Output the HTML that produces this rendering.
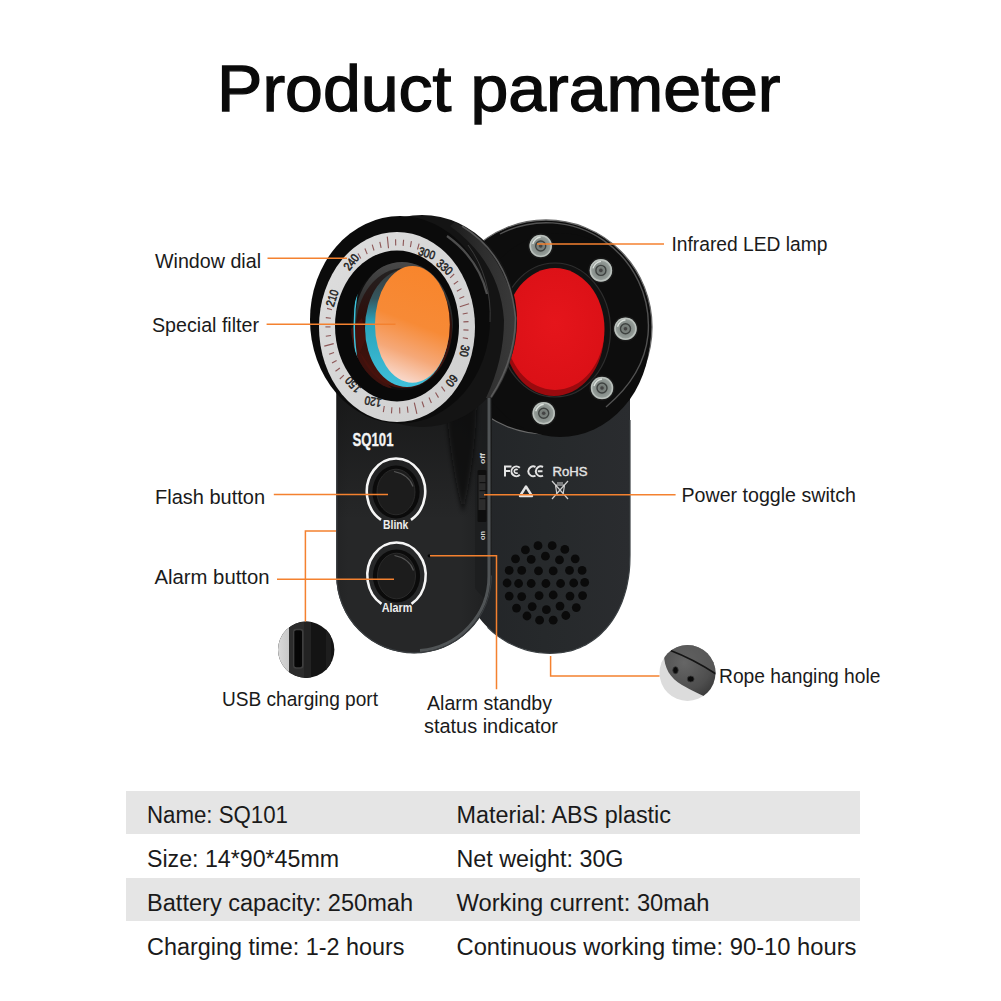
<!DOCTYPE html>
<html><head><meta charset="utf-8"><style>
html,body{margin:0;padding:0;background:#fff;width:1001px;height:1001px;overflow:hidden}
svg{display:block}
text{font-family:"Liberation Sans",sans-serif}
</style></head><body>
<svg width="1001" height="1001" viewBox="0 0 1001 1001">
<defs>
<linearGradient id="gFilter" x1="0.6" y1="0" x2="0.35" y2="1">
<stop offset="0" stop-color="#f8852c"/><stop offset="0.48" stop-color="#f78a36"/><stop offset="0.75" stop-color="#f5a878"/><stop offset="1" stop-color="#f9ddd3"/>
</linearGradient>
<linearGradient id="gRing" x1="0" y1="0" x2="1" y2="1">
<stop offset="0" stop-color="#dedede"/><stop offset="0.5" stop-color="#d6d6d6"/><stop offset="1" stop-color="#cfcfcf"/>
</linearGradient>
<linearGradient id="gCyan" x1="0" y1="0" x2="0" y2="1">
<stop offset="0" stop-color="#3a3a3a"/><stop offset="0.25" stop-color="#34565e"/><stop offset="0.45" stop-color="#2aa3bb"/><stop offset="1" stop-color="#3fc0da"/>
</linearGradient>
<linearGradient id="gBarrelGray" x1="0" y1="0" x2="0" y2="1">
<stop offset="0" stop-color="#4a4a4a"/><stop offset="0.4" stop-color="#2a2a2a"/><stop offset="1" stop-color="#141414"/>
</linearGradient>
<linearGradient id="gRedBand" x1="0" y1="0" x2="0" y2="1">
<stop offset="0" stop-color="#222"/><stop offset="0.4" stop-color="#2e0f0b"/><stop offset="1" stop-color="#48130d"/>
</linearGradient>
<linearGradient id="gBodyF" x1="0" y1="0" x2="1" y2="0">
<stop offset="0" stop-color="#232425"/><stop offset="0.08" stop-color="#262728"/><stop offset="0.8" stop-color="#262728"/><stop offset="1" stop-color="#1e1f20"/>
</linearGradient>
<linearGradient id="gBodyB" x1="0" y1="0" x2="1" y2="0">
<stop offset="0" stop-color="#222427"/><stop offset="0.5" stop-color="#26292b"/><stop offset="1" stop-color="#2a2c2f"/>
</linearGradient>
<linearGradient id="gHeadSide" x1="0" y1="0" x2="1" y2="0">
<stop offset="0" stop-color="#1c1c1c"/><stop offset="0.5" stop-color="#2e2e2e"/><stop offset="1" stop-color="#3a3a3a"/>
</linearGradient>
<radialGradient id="gLed" cx="0.5" cy="0.5" r="0.55">
<stop offset="0" stop-color="#6a706c"/><stop offset="0.6" stop-color="#8c9490"/><stop offset="1" stop-color="#a4aca8"/>
</radialGradient>
<radialGradient id="gRed" cx="0.5" cy="0.45" r="0.6">
<stop offset="0" stop-color="#e5151b"/><stop offset="1" stop-color="#da1016"/>
</radialGradient>
<linearGradient id="gRope" x1="0" y1="0" x2="0" y2="1">
<stop offset="0" stop-color="#3c3c3c"/><stop offset="0.5" stop-color="#5a5a5a"/><stop offset="1" stop-color="#4e4e4e"/>
</linearGradient>
<linearGradient id="gUsbL" x1="0" y1="0" x2="1" y2="0">
<stop offset="0" stop-color="#e4e4e4"/><stop offset="1" stop-color="#c8c8c8"/>
</linearGradient>
<radialGradient id="gRopeR" cx="0.45" cy="0.35" r="0.7"><stop offset="0" stop-color="#666"/><stop offset="0.6" stop-color="#4e4e4e"/><stop offset="1" stop-color="#2e2e2e"/></radialGradient>
<clipPath id="cpRope"><circle cx="687.5" cy="673" r="28"/></clipPath>
<clipPath id="cpUsb"><circle cx="306.2" cy="649.8" r="28.2"/></clipPath>
<linearGradient id="gTopDark" x1="0" y1="0" x2="0" y2="1"><stop offset="0" stop-color="#111" stop-opacity="0.7"/><stop offset="1" stop-color="#111" stop-opacity="0"/></linearGradient>
<filter id="fBlur2" x="-50%" y="-20%" width="200%" height="140%"><feGaussianBlur stdDeviation="2.2"/></filter>
<clipPath id="cpFront"><path d="M336.2 380 L492 380 L492 575.5 A77.9 77.9 0 0 1 336.2 575.5 Z"/></clipPath>
<clipPath id="cpBarrel"><ellipse cx="402" cy="326" rx="51" ry="64"/></clipPath>
</defs>
<rect width="1001" height="1001" fill="#fff"/>

<path d="M476 380 L630 380 L630.0 555.0 L629.9 559.8 L629.8 564.2 L629.5 568.4 L629.1 572.5 L628.6 576.5 L627.9 580.4 L627.2 584.2 L626.4 588.0 L625.4 591.6 L624.3 595.2 L623.1 598.7 L621.9 602.2 L620.5 605.5 L619.0 608.7 L617.4 611.9 L615.7 615.0 L613.9 617.9 L612.0 620.8 L610.0 623.6 L608.0 626.2 L605.8 628.8 L603.5 631.2 L601.2 633.5 L598.8 635.7 L596.3 637.8 L593.7 639.8 L591.1 641.6 L588.4 643.3 L585.6 644.9 L582.7 646.3 L579.8 647.6 L576.8 648.8 L573.8 649.9 L570.7 650.8 L567.5 651.5 L564.2 652.2 L560.9 652.7 L557.5 653.0 L553.9 653.2 L550.0 653.3 L546.4 653.2 L542.8 653.0 L539.2 652.6 L535.6 652.1 L532.1 651.4 L528.5 650.6 L525.0 649.6 L521.6 648.5 L518.2 647.2 L514.8 645.8 L511.5 644.3 L508.2 642.6 L505.0 640.8 L501.9 638.8 L498.9 636.7 L495.9 634.5 L493.0 632.2 L490.3 629.7 L487.6 627.2 L484.9 624.5 L482.4 621.7 L480.0 618.8 L477.8 615.9 L475.6 612.8 L473.5 609.6 L471.6 606.4 L469.7 603.0 L468.0 599.6 L466.5 596.2 L465.0 592.6 L463.7 589.0 L462.5 585.4 L461.5 581.7 L460.5 577.9 L459.8 574.2 L459.1 570.4 L458.6 566.6 L458.3 562.7 L458.1 558.9 L458.0 555.0 L458 380 Z" fill="url(#gBodyB)"/>
<path d="M630 420 L630.0 555.0 L629.9 559.8 L629.8 564.2 L629.5 568.4 L629.1 572.5 L628.6 576.5 L627.9 580.4 L627.2 584.2 L626.4 588.0 L625.4 591.6 L624.3 595.2 L623.1 598.7 L621.9 602.2 L620.5 605.5 L619.0 608.7 L617.4 611.9 L615.7 615.0 L613.9 617.9 L612.0 620.8 L610.0 623.6 L608.0 626.2 L605.8 628.8 L603.5 631.2 L601.2 633.5 L598.8 635.7 L596.3 637.8 L593.7 639.8 L591.1 641.6 L588.4 643.3 L585.6 644.9 L582.7 646.3 L579.8 647.6 L576.8 648.8 L573.8 649.9 L570.7 650.8 L567.5 651.5 L564.2 652.2 L560.9 652.7 L557.5 653.0 L553.9 653.2 L550.0 653.3 L546.4 653.2 L542.8 653.0 L539.2 652.6 L535.6 652.1 L532.1 651.4 L528.5 650.6 L525.0 649.6 L521.6 648.5 L518.2 647.2 L514.8 645.8 L511.5 644.3 L508.2 642.6 L505.0 640.8 L501.9 638.8 L498.9 636.7 L495.9 634.5 L493.0 632.2 L490.3 629.7 L487.6 627.2" fill="none" stroke="#3a3f42" stroke-width="1.2"/>
<ellipse cx="546" cy="327" rx="106" ry="107" fill="#0d0d0d" stroke="#6a6a6a" stroke-width="1.3"/>
<ellipse cx="560" cy="335" rx="90" ry="102" fill="#0d0d0d"/>
<path d="M500 234 A102 103 0 0 1 648 335 Q644 375 606 407" fill="none" stroke="#5a5a5a" stroke-width="1.4" opacity="0.9"/>
<ellipse cx="555" cy="330" rx="55.5" ry="67" fill="#121212" stroke="#2e2e2e" stroke-width="1.2"/>
<ellipse cx="554" cy="334" rx="50" ry="62" fill="#9a0a0e"/>
<ellipse cx="555" cy="329" rx="49.5" ry="61" fill="url(#gRed)"/>
<circle cx="540.7" cy="246" r="12.8" fill="#181818"/>
<circle cx="540.7" cy="246" r="11.3" fill="url(#gLed)"/>
<circle cx="540.7" cy="246" r="10.4" fill="none" stroke="#c4cac6" stroke-width="1.3" opacity="0.8"/>
<circle cx="540.7" cy="246" r="5" fill="none" stroke="#3e4240" stroke-width="1.4"/>
<circle cx="540.7" cy="246" r="1.8" fill="#444"/>
<path d="M532.7 244 Q534.7 238 540.7 237" fill="none" stroke="#eef2ee" stroke-width="1.4" opacity="0.8"/>
<circle cx="600.9" cy="270.4" r="12.8" fill="#181818"/>
<circle cx="600.9" cy="270.4" r="11.3" fill="url(#gLed)"/>
<circle cx="600.9" cy="270.4" r="10.4" fill="none" stroke="#c4cac6" stroke-width="1.3" opacity="0.8"/>
<circle cx="600.9" cy="270.4" r="5" fill="none" stroke="#3e4240" stroke-width="1.4"/>
<circle cx="600.9" cy="270.4" r="1.8" fill="#444"/>
<path d="M592.9 268.4 Q594.9 262.4 600.9 261.4" fill="none" stroke="#eef2ee" stroke-width="1.4" opacity="0.8"/>
<circle cx="625.5" cy="328.7" r="12.8" fill="#181818"/>
<circle cx="625.5" cy="328.7" r="11.3" fill="url(#gLed)"/>
<circle cx="625.5" cy="328.7" r="10.4" fill="none" stroke="#c4cac6" stroke-width="1.3" opacity="0.8"/>
<circle cx="625.5" cy="328.7" r="5" fill="none" stroke="#3e4240" stroke-width="1.4"/>
<circle cx="625.5" cy="328.7" r="1.8" fill="#444"/>
<path d="M617.5 326.7 Q619.5 320.7 625.5 319.7" fill="none" stroke="#eef2ee" stroke-width="1.4" opacity="0.8"/>
<circle cx="602" cy="388" r="12.8" fill="#181818"/>
<circle cx="602" cy="388" r="11.3" fill="url(#gLed)"/>
<circle cx="602" cy="388" r="10.4" fill="none" stroke="#c4cac6" stroke-width="1.3" opacity="0.8"/>
<circle cx="602" cy="388" r="5" fill="none" stroke="#3e4240" stroke-width="1.4"/>
<circle cx="602" cy="388" r="1.8" fill="#444"/>
<path d="M594 386 Q596 380 602 379" fill="none" stroke="#eef2ee" stroke-width="1.4" opacity="0.8"/>
<circle cx="543.7" cy="413.3" r="12.8" fill="#181818"/>
<circle cx="543.7" cy="413.3" r="11.3" fill="url(#gLed)"/>
<circle cx="543.7" cy="413.3" r="10.4" fill="none" stroke="#c4cac6" stroke-width="1.3" opacity="0.8"/>
<circle cx="543.7" cy="413.3" r="5" fill="none" stroke="#3e4240" stroke-width="1.4"/>
<circle cx="543.7" cy="413.3" r="1.8" fill="#444"/>
<path d="M535.7 411.3 Q537.7 405.3 543.7 404.3" fill="none" stroke="#eef2ee" stroke-width="1.4" opacity="0.8"/>
<g fill="none" stroke="#e4e4e4" stroke-width="2"><path d="M505 476.5 V466.5 H511.5 M505 471 H510"/><path d="M519.8 467.8 A4.9 4.9 0 1 0 519.8 474.8"/><path d="M517.6 470 A1.9 1.9 0 1 0 517.6 472.6" stroke-width="1.6"/><path d="M535.5 467 A4.9 4.9 0 1 0 535.5 475.6"/><path d="M543 467 A4.9 4.9 0 1 0 543 475.6 M537.8 471.3 H542.5"/><path d="M520 496 L526 486.5 L532 496 Z" stroke-width="2.4" stroke-linejoin="round"/></g>
<text x="552.5" y="476.2" font-size="13" fill="#e4e4e4" stroke="#e4e4e4" stroke-width="0.4" textLength="35" lengthAdjust="spacingAndGlyphs">RoHS</text>
<path d="M552 481 L568 499 M568 481 L552 499 M555.5 485 h9 l-1.5 10 h-6 z M557 483 h6" fill="none" stroke="#cfcfcf" stroke-width="1.2"/>
<circle cx="538.0" cy="545.7" r="4.4" fill="#0a0a0a"/>
<circle cx="552.2" cy="545.7" r="4.4" fill="#0a0a0a"/>
<circle cx="525.4" cy="549.9" r="4.4" fill="#0a0a0a"/>
<circle cx="564.8" cy="549.4" r="4.4" fill="#0a0a0a"/>
<circle cx="515.5" cy="558.8" r="4.4" fill="#0a0a0a"/>
<circle cx="531.2" cy="559.4" r="4.4" fill="#0a0a0a"/>
<circle cx="545.4" cy="556.2" r="4.4" fill="#0a0a0a"/>
<circle cx="559.5" cy="559.9" r="4.4" fill="#0a0a0a"/>
<circle cx="575.2" cy="558.8" r="4.4" fill="#0a0a0a"/>
<circle cx="509.2" cy="570.4" r="4.4" fill="#0a0a0a"/>
<circle cx="521.7" cy="570.4" r="4.4" fill="#0a0a0a"/>
<circle cx="538.5" cy="570.9" r="4.4" fill="#0a0a0a"/>
<circle cx="553.2" cy="570.9" r="4.4" fill="#0a0a0a"/>
<circle cx="569.5" cy="570.4" r="4.4" fill="#0a0a0a"/>
<circle cx="582.1" cy="570.4" r="4.4" fill="#0a0a0a"/>
<circle cx="507.1" cy="583.0" r="4.4" fill="#0a0a0a"/>
<circle cx="518.6" cy="583.5" r="4.4" fill="#0a0a0a"/>
<circle cx="531.2" cy="583.5" r="4.4" fill="#0a0a0a"/>
<circle cx="545.9" cy="583.5" r="4.4" fill="#0a0a0a"/>
<circle cx="560.6" cy="583.5" r="4.4" fill="#0a0a0a"/>
<circle cx="573.7" cy="583.0" r="4.4" fill="#0a0a0a"/>
<circle cx="584.7" cy="582.4" r="4.4" fill="#0a0a0a"/>
<circle cx="509.2" cy="596.1" r="4.4" fill="#0a0a0a"/>
<circle cx="521.7" cy="596.6" r="4.4" fill="#0a0a0a"/>
<circle cx="539.1" cy="595.6" r="4.4" fill="#0a0a0a"/>
<circle cx="553.2" cy="595.0" r="4.4" fill="#0a0a0a"/>
<circle cx="570.0" cy="596.1" r="4.4" fill="#0a0a0a"/>
<circle cx="582.6" cy="595.6" r="4.4" fill="#0a0a0a"/>
<circle cx="516.5" cy="608.1" r="4.4" fill="#0a0a0a"/>
<circle cx="532.2" cy="606.6" r="4.4" fill="#0a0a0a"/>
<circle cx="546.4" cy="609.7" r="4.4" fill="#0a0a0a"/>
<circle cx="560.0" cy="606.1" r="4.4" fill="#0a0a0a"/>
<circle cx="576.3" cy="607.6" r="4.4" fill="#0a0a0a"/>
<circle cx="527.0" cy="616.0" r="4.4" fill="#0a0a0a"/>
<circle cx="539.6" cy="620.2" r="4.4" fill="#0a0a0a"/>
<circle cx="553.2" cy="620.2" r="4.4" fill="#0a0a0a"/>
<circle cx="565.8" cy="615.5" r="4.4" fill="#0a0a0a"/>
<path d="M336.2 380 L492 380 L492 575.5 A77.9 77.9 0 0 1 336.2 575.5 Z" fill="url(#gBodyF)"/>
<rect x="337" y="380" width="155" height="140" fill="url(#gTopDark)"/>
<path d="M336.8 420 L336.8 575.5 A77.3 77.3 0 0 0 491.4 575.5" fill="none" stroke="#3a3e41" stroke-width="1.2"/>
<g clip-path="url(#cpFront)">
<path d="M475 390 L487 390 L487 600 Q481 596 475 588 Z" fill="#1c1d1e" opacity="0.85"/>
<path d="M489 390 L489 575.5 A75 75 0 0 1 420 650.5" stroke="#505456" stroke-width="3" fill="none"/>
</g>
<path d="M446 405 L477 405 Q475 462 463 512 Q451 468 446 405 Z" fill="#0a0a0a" opacity="0.8" filter="url(#fBlur2)"/>
<rect x="477.5" y="470" width="9" height="52" rx="1.5" fill="#0e0e0e"/>
<rect x="478.5" y="475" width="7" height="35" fill="#2c2c2c"/>
<rect x="479.5" y="482" width="6.5" height="1.2" fill="#111"/><rect x="479.5" y="490" width="6.5" height="1.2" fill="#111"/><rect x="479.5" y="498" width="6.5" height="1.2" fill="#111"/>
<text transform="translate(484.5,464) rotate(-90)" font-size="7" font-weight="bold" fill="#d8d8d8" textLength="11" lengthAdjust="spacingAndGlyphs">off</text>
<text transform="translate(484.5,540) rotate(-90)" font-size="7" font-weight="bold" fill="#d8d8d8" textLength="9" lengthAdjust="spacingAndGlyphs">on</text>
<ellipse cx="422" cy="321" rx="95" ry="106" fill="#141414"/>
<path d="M455 222 Q505 250 516.5 318 Q517 362 492 398 L486 398 Q504 360 504 320 Q500 262 450 226 Z" fill="url(#gHeadSide)"/>
<path d="M462 226 Q510 256 515.5 318 Q515 360 491 397" fill="none" stroke="#5e5e5e" stroke-width="1.6" opacity="0.9"/>
<ellipse cx="400" cy="319.8" rx="90" ry="103.8" fill="#0b0b0b"/>
<path d="M468 245 A90 106 0 0 1 490 322" fill="none" stroke="#444" stroke-width="1" opacity="0.8"/>
<path d="M447 236 Q478 258 487 294" fill="none" stroke="#6a6a6a" stroke-width="2.2" opacity="0.7"/>
<ellipse cx="397" cy="327" rx="78" ry="95" fill="url(#gRing)"/>
<line x1="450.1" y1="277.8" x2="454.2" y2="274.0" stroke="#8c5656" stroke-width="1.1"/>
<line x1="453.8" y1="284.3" x2="458.1" y2="281.1" stroke="#8c5656" stroke-width="1.1"/>
<line x1="456.9" y1="291.3" x2="461.5" y2="288.6" stroke="#8c5656" stroke-width="1.1"/>
<line x1="459.4" y1="298.6" x2="464.2" y2="296.5" stroke="#8c5656" stroke-width="1.1"/>
<line x1="459.8" y1="306.7" x2="469.1" y2="303.8" stroke="#8c5656" stroke-width="1.1"/>
<line x1="462.7" y1="314.0" x2="467.7" y2="313.0" stroke="#8c5656" stroke-width="1.1"/>
<line x1="463.4" y1="321.9" x2="468.5" y2="321.6" stroke="#8c5656" stroke-width="1.1"/>
<line x1="463.4" y1="329.9" x2="468.5" y2="330.1" stroke="#8c5656" stroke-width="1.1"/>
<line x1="462.8" y1="337.8" x2="467.9" y2="338.6" stroke="#8c5656" stroke-width="1.1"/>
<line x1="441.5" y1="386.7" x2="444.9" y2="391.3" stroke="#8c5656" stroke-width="1.1"/>
<line x1="435.5" y1="392.5" x2="438.5" y2="397.6" stroke="#8c5656" stroke-width="1.1"/>
<line x1="429.0" y1="397.5" x2="431.4" y2="403.0" stroke="#8c5656" stroke-width="1.1"/>
<line x1="422.0" y1="401.5" x2="424.0" y2="407.3" stroke="#8c5656" stroke-width="1.1"/>
<line x1="414.3" y1="402.6" x2="416.9" y2="413.9" stroke="#8c5656" stroke-width="1.1"/>
<line x1="407.3" y1="406.5" x2="408.0" y2="412.7" stroke="#8c5656" stroke-width="1.1"/>
<line x1="399.6" y1="407.4" x2="399.8" y2="413.6" stroke="#8c5656" stroke-width="1.1"/>
<line x1="391.9" y1="407.2" x2="391.5" y2="413.4" stroke="#8c5656" stroke-width="1.1"/>
<line x1="384.3" y1="406.0" x2="383.3" y2="412.1" stroke="#8c5656" stroke-width="1.1"/>
<line x1="343.9" y1="375.2" x2="339.8" y2="379.0" stroke="#8c5656" stroke-width="1.1"/>
<line x1="339.9" y1="368.0" x2="335.5" y2="371.2" stroke="#8c5656" stroke-width="1.1"/>
<line x1="336.6" y1="360.4" x2="332.0" y2="363.0" stroke="#8c5656" stroke-width="1.1"/>
<line x1="334.0" y1="352.4" x2="329.1" y2="354.3" stroke="#8c5656" stroke-width="1.1"/>
<line x1="333.7" y1="343.6" x2="324.3" y2="346.1" stroke="#8c5656" stroke-width="1.1"/>
<line x1="330.9" y1="335.5" x2="325.8" y2="336.2" stroke="#8c5656" stroke-width="1.1"/>
<line x1="330.5" y1="326.9" x2="325.4" y2="326.9" stroke="#8c5656" stroke-width="1.1"/>
<line x1="330.9" y1="318.2" x2="325.8" y2="317.6" stroke="#8c5656" stroke-width="1.1"/>
<line x1="332.0" y1="309.7" x2="327.0" y2="308.4" stroke="#8c5656" stroke-width="1.1"/>
<line x1="360.8" y1="258.6" x2="358.0" y2="253.4" stroke="#8c5656" stroke-width="1.1"/>
<line x1="367.2" y1="254.1" x2="364.9" y2="248.5" stroke="#8c5656" stroke-width="1.1"/>
<line x1="374.0" y1="250.5" x2="372.2" y2="244.7" stroke="#8c5656" stroke-width="1.1"/>
<line x1="381.1" y1="247.9" x2="379.8" y2="241.8" stroke="#8c5656" stroke-width="1.1"/>
<line x1="388.5" y1="248.2" x2="387.3" y2="236.6" stroke="#8c5656" stroke-width="1.1"/>
<line x1="395.7" y1="245.6" x2="395.6" y2="239.3" stroke="#8c5656" stroke-width="1.1"/>
<line x1="403.1" y1="245.9" x2="403.6" y2="239.7" stroke="#8c5656" stroke-width="1.1"/>
<line x1="410.4" y1="247.2" x2="411.4" y2="241.1" stroke="#8c5656" stroke-width="1.1"/>
<line x1="417.5" y1="249.5" x2="419.1" y2="243.6" stroke="#8c5656" stroke-width="1.1"/>
<text transform="translate(351,262) rotate(-52)" x="-8.5" y="4.3" font-size="12" fill="#1e1e1e" stroke="#1e1e1e" stroke-width="0.5" textLength="17" lengthAdjust="spacingAndGlyphs">240</text>
<text transform="translate(426.9,253) rotate(18)" x="-8.5" y="4.3" font-size="12" fill="#1e1e1e" stroke="#1e1e1e" stroke-width="0.5" textLength="17" lengthAdjust="spacingAndGlyphs">300</text>
<text transform="translate(444.8,267) rotate(42)" x="-8.5" y="4.3" font-size="12" fill="#1e1e1e" stroke="#1e1e1e" stroke-width="0.5" textLength="17" lengthAdjust="spacingAndGlyphs">330</text>
<text transform="translate(332,298) rotate(-72)" x="-8.5" y="4.3" font-size="12" fill="#1e1e1e" stroke="#1e1e1e" stroke-width="0.5" textLength="17" lengthAdjust="spacingAndGlyphs">210</text>
<text transform="translate(464.8,351) rotate(100)" x="-5.75" y="4.3" font-size="12" fill="#1e1e1e" stroke="#1e1e1e" stroke-width="0.5" textLength="11.5" lengthAdjust="spacingAndGlyphs">30</text>
<text transform="translate(451.8,380.8) rotate(128)" x="-5.75" y="4.3" font-size="12" fill="#1e1e1e" stroke="#1e1e1e" stroke-width="0.5" textLength="11.5" lengthAdjust="spacingAndGlyphs">60</text>
<text transform="translate(373,401.8) rotate(190)" x="-8.5" y="4.3" font-size="12" fill="#1e1e1e" stroke="#1e1e1e" stroke-width="0.5" textLength="17" lengthAdjust="spacingAndGlyphs">120</text>
<text transform="translate(353,384.8) rotate(228)" x="-8.5" y="4.3" font-size="12" fill="#1e1e1e" stroke="#1e1e1e" stroke-width="0.5" textLength="17" lengthAdjust="spacingAndGlyphs">150</text>
<ellipse cx="397" cy="326" rx="62" ry="75.5" fill="#090909"/>
<g clip-path="url(#cpBarrel)">
<rect x="340" y="255" width="120" height="140" fill="#0f0f0f"/>
<ellipse cx="404" cy="322" rx="49" ry="62" fill="url(#gBarrelGray)"/>
<ellipse cx="404" cy="328" rx="48" ry="60" fill="url(#gRedBand)"/>
<path d="M350 330 L362 318 L366 338 L360 352 L374 372 L392 388 L370 392 L352 360 Z" fill="#4a120c" opacity="0.8"/>
<ellipse cx="407" cy="328" rx="42" ry="59" fill="url(#gCyan)"/>
<path d="M357 292 Q351 330 358 366" fill="none" stroke="#3cc3dc" stroke-width="1.5"/>
<path d="M372 268 Q392 256 425 262" fill="none" stroke="#a0a0a0" stroke-width="1.6" opacity="0.6"/>
</g>
<ellipse cx="412.4" cy="324.4" rx="37.4" ry="58.4" fill="url(#gFilter)"/>
<text x="352.5" y="445.5" font-size="18" font-weight="bold" fill="#f4f4f4" stroke="#f4f4f4" stroke-width="0.3" textLength="41" lengthAdjust="spacingAndGlyphs">SQ101</text>
<ellipse cx="396" cy="492.0" rx="23.6" ry="26.4" fill="#0b0b0b"/>
<ellipse cx="396" cy="492.0" rx="19" ry="22.8" fill="#1c1c1c" stroke="#303030" stroke-width="0.8"/>
<path d="M394 471.5 Q409 474.5 413 486.5" fill="none" stroke="#555" stroke-width="1.2"/>
<path d="M381.0 519.8 A29.2 33 0 1 1 411.0 519.8" fill="none" stroke="#f6f6f6" stroke-width="2.6"/>
<text x="383" y="529" font-size="12.5" font-weight="bold" fill="#eeeeee" textLength="25.4" lengthAdjust="spacingAndGlyphs">Blink</text>
<ellipse cx="396.5" cy="576.0" rx="23.6" ry="26.4" fill="#0b0b0b"/>
<ellipse cx="396.5" cy="576.0" rx="19" ry="22.8" fill="#1c1c1c" stroke="#303030" stroke-width="0.8"/>
<path d="M394.5 555.5 Q409.5 558.5 413.5 570.5" fill="none" stroke="#555" stroke-width="1.2"/>
<path d="M381.5 603.8 A29.2 33 0 1 1 411.5 603.8" fill="none" stroke="#f6f6f6" stroke-width="2.6"/>
<text x="381.7" y="612.2" font-size="12.5" font-weight="bold" fill="#eeeeee" textLength="30.6" lengthAdjust="spacingAndGlyphs">Alarm</text>
<circle cx="429.2" cy="555.8" r="1.6" fill="#050505"/>
<g clip-path="url(#cpUsb)"><rect x="270" y="615" width="80" height="70" fill="#141414"/><rect x="270" y="615" width="19" height="70" fill="url(#gUsbL)"/><rect x="289" y="615" width="15" height="70" fill="#2c2c2c"/><rect x="304" y="615" width="7" height="70" fill="#232323"/><rect x="326" y="615" width="5" height="70" fill="#1e1e1e"/><rect x="293.8" y="629.5" width="9" height="38.5" rx="2.5" fill="#070707" stroke="#3e3e3e" stroke-width="1.6"/><rect x="294.6" y="631" width="5" height="35.5" fill="#060606"/></g>
<g clip-path="url(#cpRope)"><rect x="655" y="640" width="65" height="65" fill="#dcdcdc"/><path d="M664 654 C664 668 670 678 682 685 C692 691 700 694 712 700 L720 705 L720 640 L655 640 L655 650 Z" fill="url(#gRopeR)"/><path d="M668 648 Q692 657 717 674 L720 640 Z" fill="#5e5e5e" opacity="0.6"/><path d="M670.5 650.5 Q693 659 716 674" fill="none" stroke="#141414" stroke-width="1.8"/><ellipse cx="675.5" cy="670.2" rx="2.7" ry="3.5" fill="#0a0a0a" stroke="#3a3a3a" stroke-width="0.8"/><ellipse cx="690.7" cy="679" rx="3.4" ry="3" fill="#0a0a0a" stroke="#3a3a3a" stroke-width="0.8"/></g>
<path d="M267.5 258.3 H347" fill="none" stroke="#f4812f" stroke-width="1.5"/>
<path d="M266.6 324.2 H395.5" fill="none" stroke="#f4812f" stroke-width="1.5"/>
<path d="M537 244 H664" fill="none" stroke="#f4812f" stroke-width="1.5"/>
<path d="M273.8 494.5 H388" fill="none" stroke="#f4812f" stroke-width="1.5"/>
<path d="M277 579.2 H394" fill="none" stroke="#f4812f" stroke-width="1.5"/>
<path d="M305.4 621.6 V531 H336" fill="none" stroke="#f4812f" stroke-width="1.5"/>
<path d="M430 555.8 H496.5 V689.3" fill="none" stroke="#f4812f" stroke-width="1.5"/>
<path d="M484 494.8 H675.6" fill="none" stroke="#f4812f" stroke-width="1.5"/>
<path d="M550.6 656 V676 H659.5" fill="none" stroke="#f4812f" stroke-width="1.5"/>
<text x="217" y="111" font-size="65.5" fill="#0a0a0a" font-weight="normal" textLength="563.5" lengthAdjust="spacingAndGlyphs" stroke="#0a0a0a" stroke-width="1.3">Product parameter</text>
<text x="155" y="267.7" font-size="20.1" fill="#1a1a1a" font-weight="normal" textLength="106" lengthAdjust="spacingAndGlyphs" >Window dial</text>
<text x="152" y="332.2" font-size="20.1" fill="#1a1a1a" font-weight="normal" textLength="107" lengthAdjust="spacingAndGlyphs" >Special filter</text>
<text x="155" y="503.5" font-size="20.1" fill="#1a1a1a" font-weight="normal" textLength="110" lengthAdjust="spacingAndGlyphs" >Flash button</text>
<text x="154.5" y="584.4" font-size="20.1" fill="#1a1a1a" font-weight="normal" textLength="115" lengthAdjust="spacingAndGlyphs" >Alarm button</text>
<text x="222" y="706" font-size="20.1" fill="#1a1a1a" font-weight="normal" textLength="156" lengthAdjust="spacingAndGlyphs" >USB charging port</text>
<text x="427" y="710" font-size="20.1" fill="#1a1a1a" font-weight="normal" textLength="125" lengthAdjust="spacingAndGlyphs" >Alarm standby</text>
<text x="424" y="732.6" font-size="20.1" fill="#1a1a1a" font-weight="normal" textLength="134" lengthAdjust="spacingAndGlyphs" >status indicator</text>
<text x="671.5" y="251.2" font-size="20.1" fill="#1a1a1a" font-weight="normal" textLength="156" lengthAdjust="spacingAndGlyphs" >Infrared LED lamp</text>
<text x="681.5" y="502.2" font-size="20.1" fill="#1a1a1a" font-weight="normal" textLength="174.5" lengthAdjust="spacingAndGlyphs" >Power toggle switch</text>
<text x="719" y="683" font-size="20.1" fill="#1a1a1a" font-weight="normal" textLength="161.5" lengthAdjust="spacingAndGlyphs" >Rope hanging hole</text>
<rect x="126" y="791" width="734" height="43" fill="#e5e5e5"/>
<rect x="126" y="878" width="734" height="43" fill="#e5e5e5"/>
<text x="147" y="822.6" font-size="24.7" fill="#1a1a1a" font-weight="normal" textLength="141" lengthAdjust="spacingAndGlyphs" >Name: SQ101</text>
<text x="456.5" y="822.6" font-size="24.7" fill="#1a1a1a" font-weight="normal" textLength="214.5" lengthAdjust="spacingAndGlyphs" >Material: ABS plastic</text>
<text x="147" y="867" font-size="24.7" fill="#1a1a1a" font-weight="normal" textLength="192" lengthAdjust="spacingAndGlyphs" >Size: 14*90*45mm</text>
<text x="456.5" y="867" font-size="24.7" fill="#1a1a1a" font-weight="normal" textLength="167" lengthAdjust="spacingAndGlyphs" >Net weight: 30G</text>
<text x="147" y="911" font-size="24.7" fill="#1a1a1a" font-weight="normal" textLength="266" lengthAdjust="spacingAndGlyphs" >Battery capacity: 250mah</text>
<text x="456.5" y="911" font-size="24.7" fill="#1a1a1a" font-weight="normal" textLength="253" lengthAdjust="spacingAndGlyphs" >Working current: 30mah</text>
<text x="147" y="955" font-size="24.7" fill="#1a1a1a" font-weight="normal" textLength="257.5" lengthAdjust="spacingAndGlyphs" >Charging time: 1-2 hours</text>
<text x="456.5" y="955" font-size="24.7" fill="#1a1a1a" font-weight="normal" textLength="400" lengthAdjust="spacingAndGlyphs" >Continuous working time: 90-10 hours</text>
</svg></body></html>
